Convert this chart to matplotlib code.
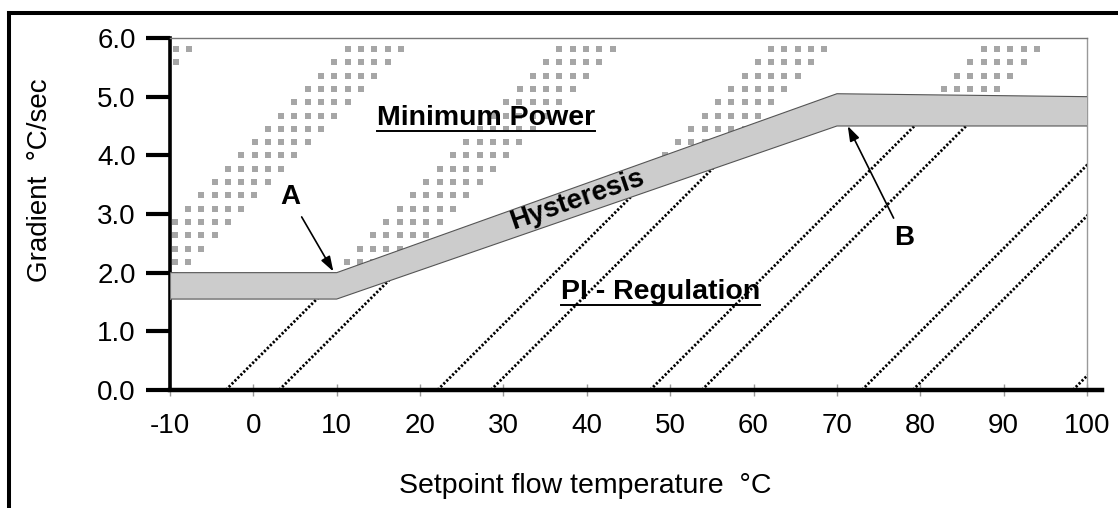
import matplotlib
matplotlib.use("Agg")
import matplotlib.pyplot as plt
import numpy as np
from matplotlib.patches import Polygon
from matplotlib.lines import Line2D

plt.rcParams['font.family'] = ['Liberation Sans', 'DejaVu Sans']
plt.rcParams['axes.unicode_minus'] = False

# hysteresis band (setpoint temperature -> gradient)
band_x = [-10, 10, 70, 100]
band_upper = [2.0, 2.0, 5.05, 5.0]
band_lower = [1.55, 1.55, 4.5, 4.5]

# diagonal hatch lines in the PI region (x where they leave the 0 line)
hatch_starts = [-3.3, 3.1, 22.1, 28.5, 47.6, 53.8, 73.0, 79.1, 98.3]
# diagonal stripes of grey squares in the minimum power region
dot_stripes = [-54.1, -28.7, -3.3, 22.1, 47.6]

x_ticks = [-10, 0, 10, 20, 30, 40, 50, 60, 70, 80, 90, 100]
y_ticks = [0.0, 1.0, 2.0, 3.0, 4.0, 5.0, 6.0]
y_tick_labels = ['0.0', '1.0', '2.0', '3.0', '4.0', '5.0', '6.0']

slope = 0.142   # 45 degrees on screen

fig = plt.figure(figsize=(11.18, 5.08), dpi=100)
ax = fig.add_axes([0.152, 0.2323, 0.8203, 0.6929])
ax.set_xlim(-10, 100)
ax.set_ylim(0, 6)

# hysteresis band
ax.fill_between(band_x, band_lower, band_upper, facecolor='#cccccc',
                edgecolor='none', zorder=3)
ax.plot(band_x, band_upper, color='#555555', lw=0.8, zorder=4)
ax.plot(band_x, band_lower, color='#555555', lw=0.8, zorder=4)
ax.plot([-10, -10], [band_lower[0], band_upper[0]], color='#777777', lw=0.8, zorder=4)

# hatch lines below the band
clip_poly = Polygon(list(zip([-10] + band_x + [100], [0] + band_lower + [0])),
                    closed=True, transform=ax.transData)
for x0 in hatch_starts:
    ln, = ax.plot([x0, x0 + 6 / slope], [0, 6], color='black', lw=2.0,
                  ls=(0, (0.8, 0.7)), zorder=2)
    ln.set_clip_path(clip_poly)

# grey square texture above the band
rows = 5.81 - 0.2266 * np.arange(20)
pitch = 1.595
sq_x, sq_y = [], []
for y in rows:
    for s in dot_stripes:
        for i in range(5):
            x = s + y / slope - 0.9 + i * pitch
            if -9.75 < x < 99.7 and y > np.interp(x, band_x, band_upper) - 0.05:
                sq_x.append(x)
                sq_y.append(y)
ax.scatter(sq_x, sq_y, marker='s', s=20, color='#a6a6a6', linewidths=0, zorder=1)

# region labels
t_min = ax.text(27.9, 4.63, 'Minimum Power', fontsize=20.5, fontweight='bold',
                ha='center', va='center', zorder=6)
t_pi = ax.text(48.8, 1.67, 'PI - Regulation', fontsize=20.5, fontweight='bold',
               ha='center', va='center', zorder=6)
ax.text(38.8, 3.24, 'Hysteresis', fontsize=20, fontweight='bold', rotation=19,
        rotation_mode='anchor', ha='center', va='center', zorder=6)
ax.text(4.4, 3.29, 'A', fontsize=20, fontweight='bold', ha='center', va='center')
ax.text(78.1, 2.59, 'B', fontsize=20, fontweight='bold', ha='center', va='center')

arrow = dict(arrowstyle='-|>,head_length=0.9,head_width=0.3', color='black',
             lw=1.2, shrinkA=0, shrinkB=0)
ax.annotate('', xy=(9.6, 2.02), xytext=(5.8, 2.95), arrowprops=arrow, zorder=6)
ax.annotate('', xy=(71.3, 4.5), xytext=(76.8, 2.93), arrowprops=arrow, zorder=6)

# axes styling
ax.set_xticks(x_ticks)
ax.set_yticks(y_ticks)
ax.set_yticklabels(y_tick_labels)
ax.tick_params(axis='y', direction='out', length=17.5, width=3, color='black',
               labelsize=20, pad=7)
ax.tick_params(axis='x', direction='inout', length=9, width=1, color='#999999',
               labelsize=20, pad=12)
ax.spines['left'].set_linewidth(2.6)
ax.spines['left'].set_color('black')
ax.spines['top'].set_linewidth(1.0)
ax.spines['top'].set_color('#777777')
ax.spines['right'].set_linewidth(1.0)
ax.spines['right'].set_color('#999999')
ax.spines['bottom'].set_visible(False)
ax.add_line(Line2D([0, 1.0164], [0, 0], transform=ax.transAxes, color='black',
                   lw=3.2, clip_on=False, zorder=7))

ax.set_xlabel('Setpoint flow temperature  °C', fontsize=20.5)
ax.xaxis.set_label_coords(0.4526, -0.235)
ax.set_ylabel('Gradient  °C/sec', fontsize=20)
ax.yaxis.set_label_coords(-0.128, 0.595)

# outer frame (top and left sides)
fx = 9 / 1118
fy = 1 - 13 / 508
fig.add_artist(Line2D([fx, 1], [fy, fy], transform=fig.transFigure, color='black', lw=2.9))
fig.add_artist(Line2D([fx, fx], [0, fy], transform=fig.transFigure, color='black', lw=2.9))

# underline the region labels
fig.canvas.draw()
renderer = fig.canvas.get_renderer()
W, H = fig.bbox.width, fig.bbox.height
for t in [t_min, t_pi]:
    bb = t.get_window_extent(renderer)
    yl = (bb.y0 + 0.5) / H
    fig.add_artist(Line2D([bb.x0 / W, bb.x1 / W], [yl, yl], transform=fig.transFigure,
                          color='black', lw=1.4))

fig.savefig('out.png', dpi=100)
